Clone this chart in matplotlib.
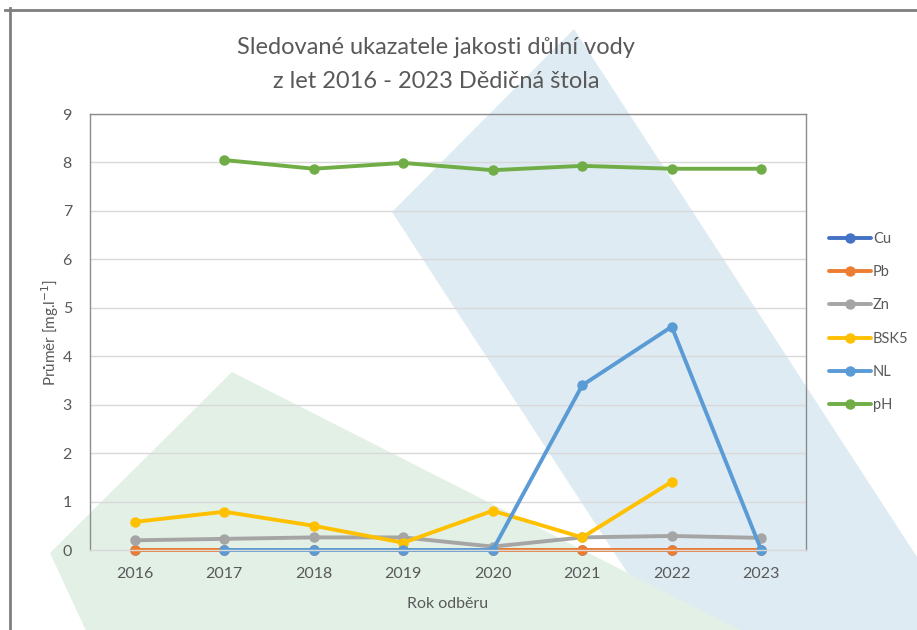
"""
Sledované ukazatele jakosti důlní vody - Dědičná štola 2016-2023
Line chart with decorative background shapes
"""

import numpy as np
import matplotlib.pyplot as plt
from matplotlib.patches import Polygon
from matplotlib.lines import Line2D

plt.rcParams['font.family'] = ['Lato', 'DejaVu Sans']

# data
years = ['2016', '2017', '2018', '2019', '2020', '2021', '2022', '2023']
cu = [0, 0, 0, 0, 0, 0, 0, 0]
pb = [0, 0, 0, 0, 0, 0, 0, 0]
zn = [0.20, 0.23, 0.26, 0.26, 0.07, 0.26, 0.29, 0.25]
bsk5 = [0.58, 0.79, 0.50, 0.15, 0.81, 0.26, 1.41, np.nan]
nl = [np.nan, 0, 0, 0, 0, 3.40, 4.61, 0]
ph = [np.nan, 8.05, 7.87, 7.99, 7.84, 7.93, 7.87, 7.87]

series_names = ['Cu', 'Pb', 'Zn', 'BSK5', 'NL', 'pH']
series_values = [cu, pb, zn, bsk5, nl, ph]
series_colors = ['#4472C4', '#ED7D31', '#A5A5A5', '#FFC000', '#5B9BD5', '#70AD47']

TEXT = '#595959'
W, H = 917, 630


def px(points):
    """pixel coords (top-left origin) -> figure fraction"""
    return [(x / W, 1 - y / H) for x, y in points]


def create_chart():
    fig = plt.figure(figsize=(W / 100, H / 100), dpi=100)
    fig.patch.set_facecolor('white')

    # decorative background shapes
    blue = Polygon(px([(574, 29), (917, 557), (917, 635), (668, 635), (392, 212)]),
                   closed=True, transform=fig.transFigure, facecolor='#DEEBF2',
                   edgecolor='none', zorder=-2)
    green = Polygon(px([(232, 372), (750, 635), (88, 635), (50, 553)]),
                    closed=True, transform=fig.transFigure, facecolor='#E3F0E6',
                    edgecolor='none', zorder=-1)
    fig.patches.extend([blue, green])

    # outer frame (top + left only visible)
    fig.add_artist(Line2D([5 / W, 1], [1 - 10 / H, 1 - 10 / H], transform=fig.transFigure,
                          color='#7F7F7F', lw=2))
    fig.add_artist(Line2D([10 / W, 10 / W], [1 - 8 / H, 0], transform=fig.transFigure,
                          color='#7F7F7F', lw=2))

    ax = fig.add_axes([90 / W, 1 - 550 / H, (806 - 90) / W, (550 - 114) / H])
    ax.set_facecolor('none')

    x = np.arange(len(years))
    for name, vals, color in zip(series_names, series_values, series_colors):
        ax.plot(x, vals, color=color, lw=2.8, marker='o', markersize=6.5,
                label=name, solid_capstyle='round', clip_on=False)

    ax.set_xlim(-0.5, len(years) - 0.5)
    ax.set_ylim(0, 9)
    ax.set_yticks(range(0, 10))
    ax.set_xticks(x)
    ax.set_xticklabels(years)
    ax.tick_params(length=0, labelsize=11.5, colors=TEXT, pad=12)
    ax.tick_params(axis='y', pad=13)
    ax.grid(axis='y', color='#D9D9D9', lw=1)
    ax.set_axisbelow(True)
    for s in ax.spines.values():
        s.set_color('#8C8C8C')
        s.set_linewidth(1)
    ax.spines['bottom'].set_color('#D9D9D9')

    ax.set_xlabel('Rok odběru', fontsize=11.5, color=TEXT, labelpad=12)
    ax.set_ylabel('Průměr [mg.l$^{-1}$]', fontsize=11, color=TEXT, labelpad=1)

    fig.text(436 / W, 1 - 48 / H, 'Sledované ukazatele jakosti důlní vody',
             ha='center', va='center', fontsize=17, color=TEXT)
    fig.text(436 / W, 1 - 82 / H, 'z let 2016 - 2023 Dědičná štola',
             ha='center', va='center', fontsize=17, color=TEXT)

    ax.legend(loc='center left', bbox_to_anchor=(816 / W, 1 - 322 / H),
              bbox_transform=fig.transFigure, frameon=False, fontsize=10.5,
              labelcolor=TEXT, handlelength=2.9, handletextpad=0.1,
              labelspacing=1.32)
    return fig


if __name__ == "__main__":
    fig = create_chart()
    fig.savefig('out.png', dpi=100, facecolor='white')
    plt.close(fig)
